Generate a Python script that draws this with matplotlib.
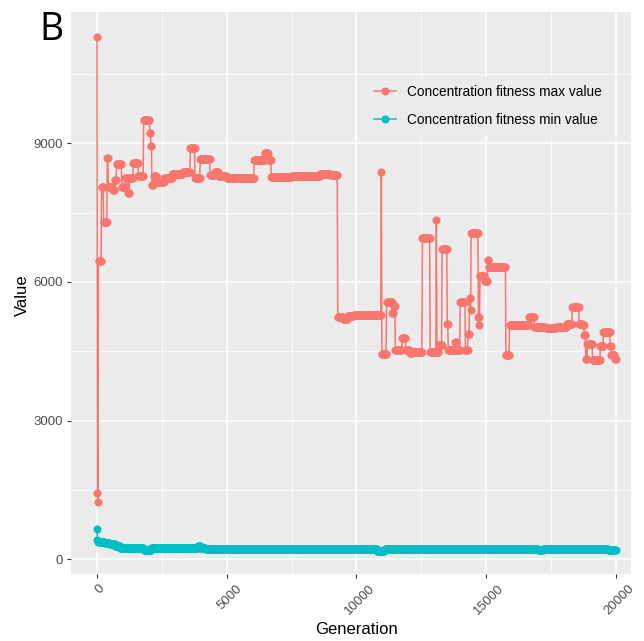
import numpy as np
import matplotlib
matplotlib.use("Agg")
import matplotlib.pyplot as plt
import matplotlib.transforms as mtransforms
from matplotlib.lines import Line2D

plt.rcParams['font.family'] = ['Liberation Sans', 'DejaVu Sans']

# ---- data (run-length encoded: generation where a value starts, value) ----
max_run_start = [0, 20, 40, 60, 180, 260, 400, 440, 600, 680, 760, 960, 1100, 1200,
                 1260, 1400, 1600, 1800, 2030, 2070, 2110, 2180, 2300, 2600, 2900,
                 3300, 3600, 3780, 3980, 4360, 4540, 4700, 5000, 6060, 6450, 6600,
                 6705, 7500, 8000, 8600, 9000, 9280, 9500, 9650, 9900, 10960, 10980,
                 11160, 11380, 11440, 11500, 11760, 11900, 12050, 12150, 12540, 12830,
                 13080, 13100, 13170, 13290, 13500, 13540, 13800, 13850, 14000, 14200,
                 14300, 14360, 14390, 14420, 14700, 14740, 14760, 14940, 15060, 15100,
                 15750, 15890, 16650, 16850, 17300, 17700, 18100, 18320, 18580, 18700,
                 18780, 18840, 18900, 19090, 19400, 19510, 19780, 19810, 19960]
max_run_value = [11290, 1440, 1230, 6460, 8060, 7300, 8670, 8060, 7990, 8200, 8560, 8060,
                 8240, 7920, 8240, 8580, 8280, 9500, 9230, 8950, 8100, 8280, 8170, 8250,
                 8330, 8380, 8890, 8240, 8650, 8310, 8380, 8300, 8240, 8640, 8780, 8640,
                 8260, 8280, 8300, 8330, 8310, 5250, 5190, 5260, 5285, 8370, 4430,
                 5570, 5320, 5480, 4530, 4780, 4530, 4470, 4490, 6960, 4490,
                 7340, 4490, 4640, 6710, 5080, 4530, 4690, 4530, 5570, 4530,
                 4870, 5660, 5390, 7050, 5250, 5070, 6130, 6020, 6470, 6330,
                 4420, 5070, 5250, 5030, 5000, 5030, 5100, 5450, 5100, 5070,
                 4850, 4330, 4650, 4310, 4610, 4920, 4610, 4420, 4330]

min_run_start = [0, 20, 40, 300, 500, 700, 900, 1200, 1800, 2100, 2400, 3500, 3900,
                 4000, 4200, 10800, 11100, 17000, 17200, 19000, 19700]
min_run_value = [655, 420, 380, 360, 330, 290, 250, 235, 205, 250, 235, 245, 280,
                 240, 225, 190, 225, 195, 225, 220, 200]

generation_step = 20
last_generation = 20000
series_labels = ["Concentration fitness max value", "Concentration fitness min value"]
x_ticks = [0, 5000, 10000, 15000, 20000]
y_ticks = [0, 3000, 6000, 9000]

# expand run-length data to one value per recorded generation
gens = np.arange(0, last_generation + 1, generation_step)
def expand(starts, values):
    idx = np.searchsorted(np.asarray(starts), gens, side='right') - 1
    return np.asarray(values, dtype=float)[idx]
max_vals = expand(max_run_start, max_run_value)
min_vals = expand(min_run_start, min_run_value)

RED = '#F8766D'
CYAN = '#00BFC4'

W, H = 644, 641
fig = plt.figure(figsize=(W / 100, H / 100), dpi=100)
L, R, T, B = 71, 631, 12, 574
ax = fig.add_axes([L / W, 1 - B / H, (R - L) / W, (B - T) / H])
ax.set_facecolor('#EBEBEB')
for s in ax.spines.values():
    s.set_visible(False)

LW, MS = 1.1, 5.8
ax.plot(gens, max_vals, color=RED, lw=LW, zorder=3)
ax.plot(gens, min_vals, color=CYAN, lw=LW, zorder=3)
ax.plot(gens, max_vals, 'o', color=RED, ms=MS, mew=0, zorder=4)
ax.plot(gens, min_vals, 'o', color=CYAN, ms=MS, mew=0, zorder=4)

ax.set_xlim(-1000, 20580)
ax.set_ylim(-318, 11838)
ax.set_xticks(x_ticks)
ax.set_yticks(y_ticks)
ax.set_xticks([2500, 7500, 12500, 17500], minor=True)
ax.set_yticks([1500, 4500, 7500, 10500], minor=True)
ax.grid(which='major', color='white', lw=1.1, zorder=1)
ax.grid(which='minor', color='white', lw=0.55, zorder=1)
ax.set_axisbelow(True)
ax.tick_params(which='minor', length=0)
ax.tick_params(which='major', length=3, width=0.8, color='#333333',
               labelcolor='#4D4D4D', labelsize=9.5, pad=3)
ax.set_yticklabels([str(v) for v in y_ticks])
ax.set_xticklabels([str(v) for v in x_ticks], rotation=45, ha='center', va='top')
shift = mtransforms.ScaledTranslation(3 / 100, 0, fig.dpi_scale_trans)
for lbl in ax.get_xticklabels():
    lbl.set_transform(lbl.get_transform() + shift)

fig.text(356 / W, 1 - 629 / H, "Generation", fontsize=12, ha='center', va='center')
fig.text(22 / W, 1 - 295 / H, "Value", fontsize=12, ha='center', va='center', rotation=90)
fig.text(39 / W, 1 - 40 / H, "B", fontsize=27, family=['Open Sans', 'DejaVu Sans'],
         ha='left', va='baseline')

handles = [Line2D([], [], color=RED, lw=LW, marker='o', ms=MS, mew=0),
           Line2D([], [], color=CYAN, lw=LW, marker='o', ms=MS, mew=0)]
leg = ax.legend(handles, series_labels, loc='upper left',
                bbox_to_anchor=(366 / W, 1 - 77 / H), bbox_transform=fig.transFigure,
                frameon=True, facecolor='#EBEBEB', edgecolor='none', framealpha=1,
                fancybox=False, fontsize=9.8, handlelength=1.6, handletextpad=0.8,
                labelspacing=1.0, borderpad=0.6, borderaxespad=0)
leg.set_zorder(5)

fig.savefig('out.png', dpi=100, facecolor='white')
